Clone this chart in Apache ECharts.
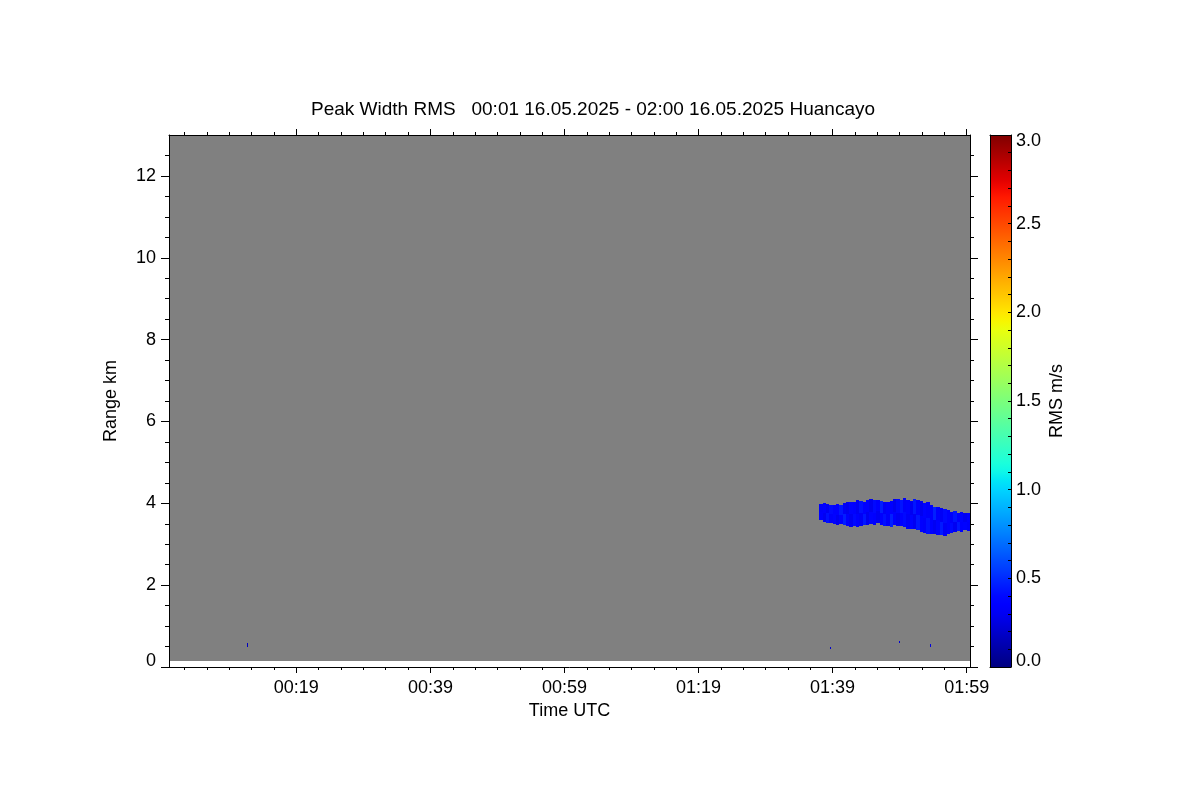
<!DOCTYPE html>
<html>
<head>
<meta charset="utf-8">
<script src="https://cdn.jsdelivr.net/npm/echarts@6/dist/echarts.min.js"></script>
<style>html,body{margin:0;padding:0;background:#fff}#chart{width:1200px;height:800px}</style>
</head>
<body>
<div id="chart"></div>
<script>
// ---- data (minutes after 00:00 UTC, range km, RMS m/s) ----
const titleText = 'Peak Width RMS   00:01 16.05.2025 - 02:00 16.05.2025 Huancayo';
const xTickMinutes = [20, 40, 60, 80, 100, 120];
const xTickLabels = ['00:19', '00:39', '00:59', '01:19', '01:39', '01:59'];
const yTickValues = [0, 2, 4, 6, 8, 10, 12];
const cbarTickValues = [0, 0.5, 1, 1.5, 2, 2.5, 3];
const timeStart = 1.0, timeEnd = 120.5;      // axis extent (minutes)
const rangeMax = 13, firstGateKm = 0.15;      // km
const rmsMin = 0, rmsMax = 3;

const blobStart = [98.0,98.5,99.0,99.5,100.0,100.5,101.0,101.5,102.0,102.5,103.0,103.5,104.0,104.5,105.0,105.5,106.0,106.5,107.0,107.5,108.0,108.5,109.0,109.5,110.0,110.5,111.0,111.5,112.0,112.5,113.0,113.5,114.0,114.5,115.0,115.5,116.0,116.5,117.0,117.5,118.0,118.5,119.0,119.5,120.0];
const blobWidth = 0.5;
const blobTop = [3.98,4.00,3.99,3.97,3.96,3.98,3.95,4.00,4.03,4.04,4.02,4.07,4.06,4.04,4.08,4.10,4.07,4.09,4.05,4.03,4.02,4.06,4.11,4.10,4.08,4.14,4.09,4.06,4.10,4.07,4.05,4.01,4.02,3.97,3.92,3.90,3.88,3.86,3.84,3.79,3.80,3.77,3.78,3.76,3.77];
const blobBottom = [3.58,3.55,3.53,3.52,3.50,3.47,3.49,3.46,3.44,3.43,3.45,3.42,3.45,3.46,3.48,3.49,3.47,3.51,3.48,3.44,3.45,3.43,3.46,3.44,3.45,3.42,3.38,3.37,3.36,3.35,3.31,3.27,3.25,3.24,3.26,3.23,3.22,3.20,3.24,3.27,3.31,3.33,3.31,3.34,3.32];
const blobValueUpper = [0.32,0.36,0.30,0.40,0.33,0.35,0.44,0.31,0.29,0.38,0.34,0.30,0.42,0.36,0.33,0.29,0.40,0.34,0.46,0.31,0.36,0.33,0.29,0.39,0.43,0.32,0.36,0.30,0.44,0.34,0.29,0.38,0.32,0.36,0.47,0.34,0.31,0.40,0.35,0.32,0.43,0.33,0.38,0.30,0.36];
const blobValueLower = [0.34,0.30,0.42,0.32,0.38,0.29,0.35,0.46,0.33,0.30,0.40,0.36,0.31,0.44,0.29,0.38,0.34,0.30,0.36,0.42,0.32,0.47,0.35,0.30,0.34,0.40,0.31,0.38,0.30,0.44,0.36,0.32,0.42,0.33,0.30,0.38,0.45,0.31,0.35,0.40,0.30,0.44,0.34,0.38,0.32];

const dotStart = [12.6, 99.6, 109.9, 114.5];
const dotEnd = [12.8, 99.8, 110.1, 114.7];
const dotBottom = [0.48, 0.44, 0.58, 0.49];
const dotTop = [0.58, 0.49, 0.63, 0.56];
const dotValue = [0.17, 0.20, 0.22, 0.25];

// ---- jet colormap ----
function interp(pts, t) {
  for (let i = 1; i < pts.length; i++) {
    if (t <= pts[i][0]) {
      const a = pts[i - 1], b = pts[i];
      return a[1] + (b[1] - a[1]) * (t - a[0]) / (b[0] - a[0]);
    }
  }
  return pts[pts.length - 1][1];
}
const JR = [[0,0],[0.35,0],[0.66,1],[0.89,1],[1,0.5]];
const JG = [[0,0],[0.125,0],[0.375,1],[0.64,1],[0.91,0],[1,0]];
const JB = [[0,0.5],[0.11,1],[0.34,1],[0.65,0],[1,0]];
function jet(v) {
  let t = (v - rmsMin) / (rmsMax - rmsMin);
  t = Math.max(0, Math.min(1, t));
  const c = x => Math.round(255 * x);
  return 'rgb(' + c(interp(JR, t)) + ',' + c(interp(JG, t)) + ',' + c(interp(JB, t)) + ')';
}

// ---- build cells [t0, t1, kmBottom, kmTop, value] ----
const cells = [];
for (let i = 0; i < blobStart.length; i++) {
  const mid = (blobTop[i] + blobBottom[i]) / 2;
  cells.push([blobStart[i], blobStart[i] + blobWidth, mid, blobTop[i], blobValueUpper[i]]);
  cells.push([blobStart[i], blobStart[i] + blobWidth, blobBottom[i], mid, blobValueLower[i]]);
}
for (let i = 0; i < dotStart.length; i++) {
  cells.push([dotStart[i], dotEnd[i], dotBottom[i], dotTop[i], dotValue[i]]);
}

function rectFrom(api, t0, t1, y0, y1, snap) {
  const p0 = api.coord([t0, y1]);
  const p1 = api.coord([t1, y0]);
  if (snap) {
    const x0 = Math.round(p0[0]), yy0 = Math.round(p0[1]);
    const x1 = Math.max(x0 + 1, Math.round(p1[0])), yy1 = Math.max(yy0 + 1, Math.round(p1[1]));
    return { x: x0, y: yy0, width: x1 - x0, height: yy1 - yy0 };
  }
  return { x: p0[0], y: p0[1], width: p1[0] - p0[0], height: p1[1] - p0[1] };
}

const FONT = '"Liberation Sans", Arial, Helvetica, sans-serif';
const black = '#000';

const xMinor = [];
for (let k = 1; k * 20 / 6 < timeEnd; k++) { if (k % 6 !== 0) xMinor.push(k * 20 / 6); }
const yMinor = [];
for (let k = 1; k * 0.5 < rangeMax; k++) { if (k % 4 !== 0) yMinor.push(k * 0.5); }
const cbarMinor = [];
for (let k = 1; k < 30; k++) cbarMinor.push(k / 10);

function ax(extra) {
  return Object.assign({
    type: 'value', z: 10, splitLine: { show: false },
    axisLine: { show: false, onZero: false, lineStyle: { color: black, width: 1 } },
    axisTick: { show: false, lineStyle: { color: black, width: 1 } },
    axisLabel: { show: false },
  }, extra);
}
const lineOn = { show: true, onZero: false, lineStyle: { color: black, width: 1 } };
const labelStyle = { color: black, fontSize: 18, fontFamily: FONT };

const xAxes = [
  ax({ gridIndex: 0, position: 'bottom', min: timeStart, max: timeEnd, axisLine: lineOn,
       axisTick: { show: true, customValues: xTickMinutes, length: 6, lineStyle: { color: black } },
       axisLabel: Object.assign({ show: true, customValues: xTickMinutes, margin: 12,
         formatter: v => xTickLabels[xTickMinutes.indexOf(v)] || '' }, labelStyle),
       name: 'Time UTC', nameLocation: 'middle', nameGap: 29,
       nameTextStyle: { color: black, fontSize: 18, fontFamily: FONT } }),
  ax({ gridIndex: 0, position: 'bottom', min: timeStart, max: timeEnd,
       axisTick: { show: true, customValues: xMinor, length: 3, lineStyle: { color: black } } }),
  ax({ gridIndex: 0, position: 'top', min: timeStart, max: timeEnd, axisLine: lineOn,
       axisTick: { show: true, customValues: xTickMinutes, length: 6, lineStyle: { color: black } } }),
  ax({ gridIndex: 0, position: 'top', min: timeStart, max: timeEnd,
       axisTick: { show: true, customValues: xMinor, length: 3, lineStyle: { color: black } } }),
  ax({ gridIndex: 1, position: 'bottom', min: 0, max: 1, axisLine: lineOn }),
  ax({ gridIndex: 1, position: 'top', min: 0, max: 1, axisLine: lineOn }),
];

const yAxes = [
  ax({ gridIndex: 0, position: 'left', min: 0, max: rangeMax, axisLine: lineOn,
       axisTick: { show: true, customValues: yTickValues, length: 8, lineStyle: { color: black } },
       axisLabel: Object.assign({ show: true, customValues: yTickValues.filter(v => v > 0), margin: 13,
         formatter: v => String(v) }, labelStyle),
       name: 'Range km', nameLocation: 'middle', nameGap: 49,
       nameTextStyle: { color: black, fontSize: 18, fontFamily: FONT } }),
  ax({ gridIndex: 0, position: 'left', min: 0, max: rangeMax,
       axisTick: { show: true, customValues: yMinor, length: 4, lineStyle: { color: black } },
       axisLabel: Object.assign({ show: true, customValues: [0], margin: 13, verticalAlign: 'bottom', lineHeight: 12,
         formatter: v => String(v) }, labelStyle) }),
  ax({ gridIndex: 0, position: 'right', min: 0, max: rangeMax, axisLine: lineOn,
       axisTick: { show: true, customValues: yTickValues, length: 8, lineStyle: { color: black } } }),
  ax({ gridIndex: 0, position: 'right', min: 0, max: rangeMax,
       axisTick: { show: true, customValues: yMinor, length: 4, lineStyle: { color: black } } }),
  ax({ gridIndex: 1, position: 'right', min: rmsMin, max: rmsMax, axisLine: lineOn,
       axisTick: { show: true, inside: true, customValues: cbarMinor, length: 3, lineStyle: { color: black } },
       axisLabel: Object.assign({ show: true, customValues: cbarTickValues.slice(1, -1), margin: 5,
         formatter: v => v.toFixed(1) }, labelStyle),
       name: 'RMS m/s', nameLocation: 'middle', nameGap: 37, nameRotate: 90,
       nameTextStyle: { color: black, fontSize: 18, fontFamily: FONT } }),
  ax({ gridIndex: 1, position: 'left', min: rmsMin, max: rmsMax, axisLine: lineOn }),
  ax({ gridIndex: 1, position: 'right', min: rmsMin, max: rmsMax,
       axisLabel: Object.assign({ show: true, customValues: [cbarTickValues[0]], margin: 5, verticalAlign: 'bottom', lineHeight: 12,
         formatter: v => v.toFixed(1) }, labelStyle) }),
  ax({ gridIndex: 1, position: 'right', min: rmsMin, max: rmsMax,
       axisLabel: Object.assign({ show: true, customValues: [cbarTickValues[cbarTickValues.length - 1]], margin: 5, verticalAlign: 'top', lineHeight: 12,
         formatter: v => v.toFixed(1) }, labelStyle) }),
];

const cbarStops = [];
for (let k = 0; k <= 60; k++) cbarStops.push({ offset: k / 60, color: jet(rmsMin + (rmsMax - rmsMin) * k / 60) });

const chart = echarts.init(document.getElementById('chart'), null, { renderer: 'canvas' });
chart.setOption({
  animation: false,
  backgroundColor: '#fff',
  graphic: [{
    type: 'text', x: 593, y: 110,
    style: { text: titleText, align: 'center', verticalAlign: 'middle', fill: black, fontSize: 19, fontFamily: FONT }
  }],
  grid: [
    { left: 169, top: 135, width: 801, height: 532, containLabel: false },
    { left: 990, top: 135, width: 21, height: 532, containLabel: false }
  ],
  xAxis: xAxes,
  yAxis: yAxes,
  series: [
    {
      type: 'custom', xAxisIndex: 0, yAxisIndex: 0, clip: true, silent: true,
      data: [[timeStart, timeEnd, firstGateKm, rangeMax]],
      encode: { x: [0, 1], y: [2, 3] },
      renderItem: (params, api) => ({
        type: 'rect',
        shape: rectFrom(api, api.value(0), api.value(1), api.value(2), api.value(3), true),
        style: { fill: '#808080' }
      })
    },
    {
      type: 'custom', xAxisIndex: 0, yAxisIndex: 0, clip: true, silent: true,
      data: cells,
      encode: { x: [0, 1], y: [2, 3] },
      renderItem: (params, api) => ({
        type: 'rect',
        shape: rectFrom(api, api.value(0), api.value(1), api.value(2), api.value(3), true),
        style: { fill: jet(api.value(4)) }
      })
    },
    {
      type: 'custom', xAxisIndex: 4, yAxisIndex: 4, silent: true,
      data: [[0, 1, rmsMin, rmsMax]],
      encode: { x: [0, 1], y: [2, 3] },
      renderItem: (params, api) => ({
        type: 'rect',
        shape: rectFrom(api, api.value(0), api.value(1), api.value(2), api.value(3), false),
        style: { fill: new echarts.graphic.LinearGradient(0, 1, 0, 0, cbarStops) }
      })
    }
  ]
});
</script>
</body>
</html>
